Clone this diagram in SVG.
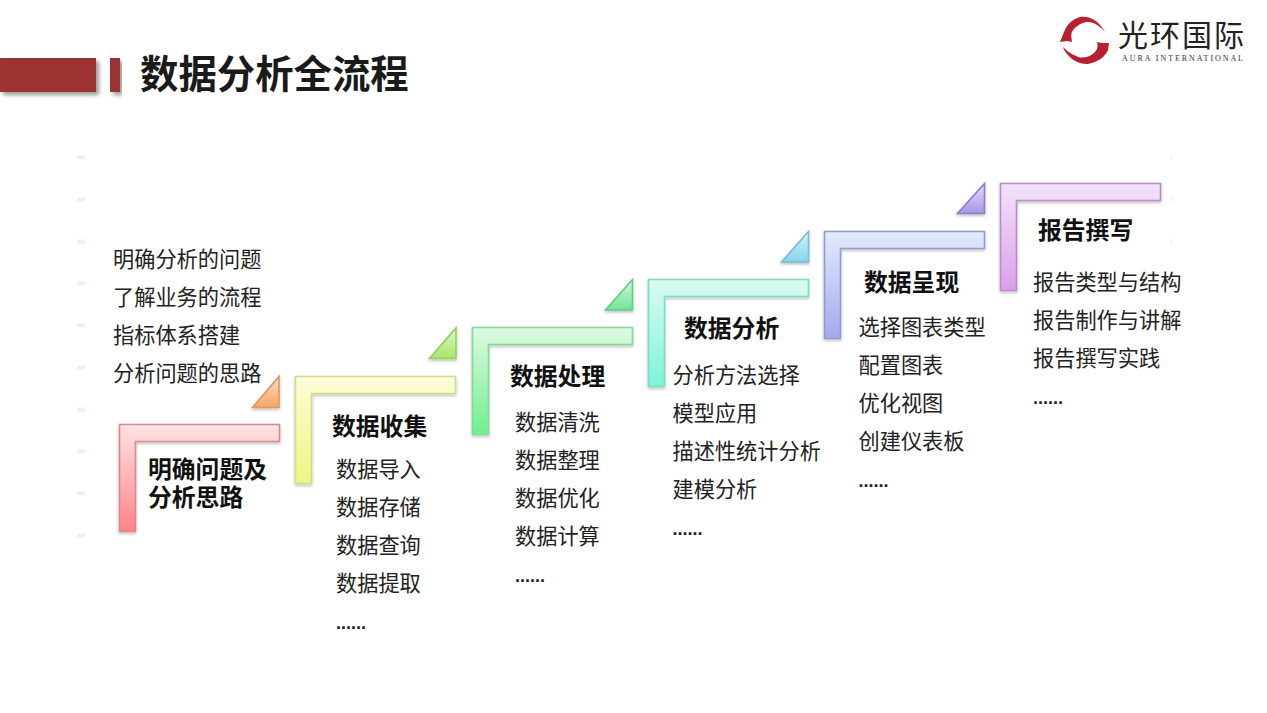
<svg xmlns="http://www.w3.org/2000/svg" width="1267" height="713" viewBox="0 0 1267 713">
<style>
text{font-family:"Noto Sans CJK SC","Liberation Sans",sans-serif;fill:#1a1a1a}
.t{font-size:38.4px;font-weight:700}
.h{font-size:23.8px;font-weight:700;fill:#111}
.b{font-size:21.2px;font-weight:400;fill:#222}
.e{font-family:"Liberation Sans",sans-serif;font-size:18px;font-weight:700;fill:#222}
.s{filter:url(#sh);stroke-width:1.6}
.d{fill:#f3eee8}
.r{fill:#f8f5f0}
.lg{fill:#b81f30}
</style>
<defs>
<filter id="sh" x="-15%" y="-15%" width="130%" height="130%"><feDropShadow dx="0" dy="1.5" stdDeviation="1.5" flood-color="#000" flood-opacity=".28"/></filter>
<filter id="bar" x="-10%" y="-20%" width="125%" height="150%"><feDropShadow dx="3" dy="3" stdDeviation="2" flood-color="#000" flood-opacity=".4"/></filter>
<linearGradient id="g1" x1="0" y1="0" x2="0" y2="1"><stop offset="0" stop-color="#ffe3e5"/><stop offset="1" stop-color="#ff8288"/></linearGradient>
<linearGradient id="g2" x1="0" y1="0" x2="0" y2="1"><stop offset="0" stop-color="#fdfdd8"/><stop offset="1" stop-color="#eef77e"/></linearGradient>
<linearGradient id="g3" x1="0" y1="0" x2="0" y2="1"><stop offset="0" stop-color="#def9e2"/><stop offset="1" stop-color="#6ff08e"/></linearGradient>
<linearGradient id="g4" x1="0" y1="0" x2="0" y2="1"><stop offset="0" stop-color="#dcfaf1"/><stop offset="1" stop-color="#7cf5da"/></linearGradient>
<linearGradient id="g5" x1="0" y1="0" x2="0" y2="1"><stop offset="0" stop-color="#e3ebfb"/><stop offset="1" stop-color="#a5a8ee"/></linearGradient>
<linearGradient id="g6" x1="0" y1="0" x2="0" y2="1"><stop offset="0" stop-color="#f3e3fa"/><stop offset="1" stop-color="#dc9fea"/></linearGradient>
<linearGradient id="t1" x1="0" y1="0" x2="0" y2="1"><stop offset="0" stop-color="#fbdcc0"/><stop offset="1" stop-color="#f4a765"/></linearGradient>
<linearGradient id="t2" x1="0" y1="0" x2="0" y2="1"><stop offset="0" stop-color="#dff5c4"/><stop offset="1" stop-color="#a8e66e"/></linearGradient>
<linearGradient id="t3" x1="0" y1="0" x2="0" y2="1"><stop offset="0" stop-color="#d3f7d8"/><stop offset="1" stop-color="#6fe596"/></linearGradient>
<linearGradient id="t4" x1="0" y1="0" x2="0" y2="1"><stop offset="0" stop-color="#d8f2f8"/><stop offset="1" stop-color="#86d4ee"/></linearGradient>
<linearGradient id="t5" x1="0" y1="0" x2="0" y2="1"><stop offset="0" stop-color="#e4dcf8"/><stop offset="1" stop-color="#a796e6"/></linearGradient>
<path id="L" d="M0 0H160V17H16V107H0Z"/>
</defs>
<rect width="1267" height="713" fill="#fff"/>

<g id="header">
<rect x="0" y="58" width="96" height="34" fill="#9c3233" filter="url(#bar)"/>
<rect x="110" y="58" width="10" height="34" fill="#9c3233" filter="url(#bar)"/>
<text class="t" x="140" y="88">数据分析全流程</text>
</g>

<g id="logo">
<path class="lg" d="M1060 42L1064 32C1067 24 1073 19 1080 17C1088 15.500 1098 19 1105 32C1099 25 1093 22 1088 22C1081 22.500 1074 27 1071.500 33C1071 36 1071.500 39 1072 42L1067 41Z"/>
<path class="lg" d="M1109 43L1108 50C1105 57 1098 62 1088 64C1080 64.500 1072 60 1068 55C1065 52 1063.500 49 1063 47C1067 51 1072 55 1080 57.500C1086 58 1091 56 1095 52C1098 49 1098 45 1097 42L1102 43Z"/>
<text x="1118" y="46" font-size="30" textLength="126" lengthAdjust="spacing" style="fill:#222">光环国际</text>
<text x="1122" y="60.500" font-size="8" textLength="121" lengthAdjust="spacing" style="font-family:'Liberation Serif',serif;fill:#333">AURA  INTERNATIONAL</text>
</g>

<g id="marks">
<rect class="d" x="77" y="155.500" width="8" height="4"/><rect class="d" x="77" y="197.500" width="8" height="4"/><rect class="d" x="77" y="239.500" width="8" height="4"/><rect class="d" x="77" y="281.500" width="8" height="4"/><rect class="d" x="77" y="323.500" width="8" height="4"/><rect class="d" x="77" y="365.500" width="8" height="4"/><rect class="d" x="77" y="407.500" width="8" height="4"/><rect class="d" x="77" y="449.500" width="8" height="4"/><rect class="d" x="77" y="491.500" width="8" height="4"/><rect class="d" x="77" y="533.500" width="8" height="4"/>
<rect class="r" x="1170" y="155" width="2" height="5"/><rect class="r" x="1170" y="197" width="2" height="5"/><rect class="r" x="1170" y="239" width="2" height="5"/>
</g>

<g id="connectors">
<polygon class="s" points="252.500,407.500 279,407.500 279,376.500" fill="url(#t1)" stroke="#d9995f"/>
<polygon class="s" points="429.500,358.500 456,358.500 456,328" fill="url(#t2)" stroke="#93cf63"/>
<polygon class="s" points="605.500,310 632.500,310 632.500,279.500" fill="url(#t3)" stroke="#5fcb85"/>
<polygon class="s" points="781.500,262 808.500,262 808.500,231.500" fill="url(#t4)" stroke="#74bcd6"/>
<polygon class="s" points="957.500,213.500 984.500,213.500 984.500,183.500" fill="url(#t5)" stroke="#8d7dc9"/>
</g>

<g id="node1">
<use href="#L" x="119.500" y="424.500" class="s" fill="url(#g1)" stroke="#d98a8e"/>
<text class="h"><tspan x="148" y="478">明确问题及</tspan><tspan x="148" y="506">分析思路</tspan></text>
</g>
<g id="node2">
<use href="#L" x="295.500" y="376.500" class="s" fill="url(#g2)" stroke="#d3d98f"/>
<text class="h" x="332" y="435">数据收集</text>
<text class="b" x="336" y="477">数据导入</text>
<text class="b" x="336" y="515">数据存储</text>
<text class="b" x="336" y="553">数据查询</text>
<text class="b" x="336" y="591">数据提取</text>
<text class="e" x="336" y="629">......</text>
</g>
<g id="node3">
<use href="#L" x="472.500" y="327.500" class="s" fill="url(#g3)" stroke="#84d89a"/>
<text class="h" x="510" y="385">数据处理</text>
<text class="b" x="515" y="430">数据清洗</text>
<text class="b" x="515" y="468">数据整理</text>
<text class="b" x="515" y="506">数据优化</text>
<text class="b" x="515" y="544">数据计算</text>
<text class="e" x="515" y="582">......</text>
</g>
<g id="node4">
<use href="#L" x="648.500" y="279.500" class="s" fill="url(#g4)" stroke="#7fd9c3"/>
<text class="h" x="684" y="337">数据分析</text>
<text class="b" x="672.500" y="383">分析方法选择</text>
<text class="b" x="672.500" y="421">模型应用</text>
<text class="b" x="672.500" y="459">描述性统计分析</text>
<text class="b" x="672.500" y="497">建模分析</text>
<text class="e" x="672.500" y="535">......</text>
</g>
<g id="node5">
<use href="#L" x="824.500" y="231.500" class="s" fill="url(#g5)" stroke="#8e9ccb"/>
<text class="h" x="864" y="291">数据呈现</text>
<text class="b" x="858.500" y="335">选择图表类型</text>
<text class="b" x="858.500" y="373">配置图表</text>
<text class="b" x="858.500" y="411">优化视图</text>
<text class="b" x="858.500" y="449">创建仪表板</text>
<text class="e" x="858.500" y="487">......</text>
</g>
<g id="node6">
<use href="#L" x="1000.500" y="183.500" class="s" fill="url(#g6)" stroke="#b98cc9"/>
<text class="h" x="1038" y="239">报告撰写</text>
<text class="b" x="1033" y="290">报告类型与结构</text>
<text class="b" x="1033" y="328">报告制作与讲解</text>
<text class="b" x="1033" y="366">报告撰写实践</text>
<text class="e" x="1033" y="404">......</text>
</g>
<g id="intro">
<text class="b" x="113" y="267">明确分析的问题</text>
<text class="b" x="113" y="305">了解业务的流程</text>
<text class="b" x="113" y="343">指标体系搭建</text>
<text class="b" x="113" y="381">分析问题的思路</text>
</g>
</svg>
